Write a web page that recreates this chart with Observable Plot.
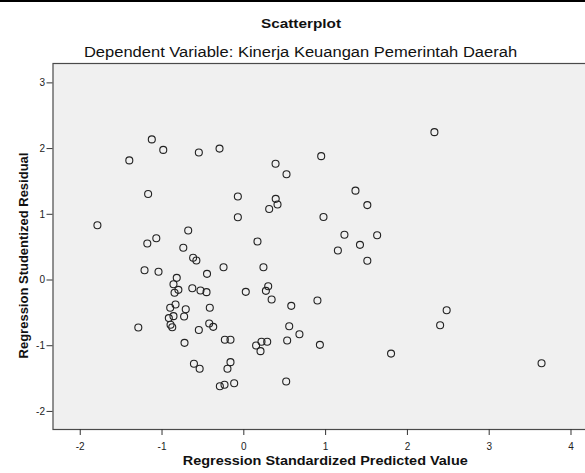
<!DOCTYPE html>
<html>
<head>
<meta charset="utf-8">
<script src="https://cdn.jsdelivr.net/npm/d3@7"></script>
<script src="https://cdn.jsdelivr.net/npm/@observablehq/plot@0.6"></script>
<style>
  html, body { margin: 0; padding: 0; background: #fff; }
  #wrap { width: 585px; height: 473px; position: relative; overflow: hidden; font-family: "Liberation Sans", Arial, sans-serif; }
  #head { position: relative; height: 56px; border-top: 2px solid #000; box-sizing: border-box; }
  #title { position: absolute; left: 0; width: 602px; top: 15px; line-height: 1; text-align: center; font-weight: bold; font-size: 13px; color: #111; transform: scaleX(1.18); transform-origin: 301px 0; white-space: nowrap; }
  #subtitle { position: absolute; left: 0; width: 601px; top: 42.8px; line-height: 1; text-align: center; font-size: 14px; color: #111; transform: scaleX(1.18); transform-origin: 300.5px 0; white-space: nowrap; }
  svg { display: block; overflow: hidden; }
</style>
</head>
<body>
<div id="wrap">
  <div id="head">
    <div id="title">Scatterplot</div>
    <div id="subtitle">Dependent Variable: Kinerja Keuangan Pemerintah Daerah</div>
  </div>
  <div id="chart"></div>
</div>
<script>
// Regression Standardized Predicted Value
const predicted = [
  -1.79, -1.125, -0.985, -1.40, -0.55, -0.297, -1.17, -0.073, -0.073, -0.68,
  -1.07, -1.18, -0.74, 0.388, 0.522, 0.946, 0.39, 0.412, 0.31, 1.365,
  1.51, 0.974, 0.167, 1.23, 1.63, 1.42, 1.15, 2.33, -0.62, -0.58,
  -1.214, -1.043, -0.248, -0.45, -0.82, -0.86, -0.80, -0.847, -0.63, -0.53,
  -0.456, -0.835, -0.90, -0.71, -0.416, -0.917, -0.86, -0.73, -0.896, -0.875,
  -1.29, -0.55, -0.423, -0.374, -0.725, -0.232, -0.163, -0.163, -0.2, -0.61,
  -0.54, -0.293, -0.236, -0.118, 1.51, 0.24, 0.024, 0.298, 0.27, 0.34,
  0.58, 0.90, 0.555, 0.68, 0.53, 0.93, 0.216, 0.286, 0.15, 0.204,
  0.518, 1.80, 2.48, 2.40, 3.64
];
// Regression Studentized Residual
const residual = [
  0.834, 2.14, 1.98, 1.82, 1.94, 2.00, 1.31, 1.27, 0.956, 0.753,
  0.636, 0.556, 0.49, 1.77, 1.61, 1.885, 1.235, 1.15, 1.08, 1.36,
  1.14, 0.96, 0.586, 0.688, 0.682, 0.535, 0.45, 2.25, 0.338, 0.297,
  0.149, 0.125, 0.195, 0.094, 0.033, -0.064, -0.15, -0.195, -0.125, -0.16,
  -0.185, -0.373, -0.423, -0.444, -0.423, -0.58, -0.55, -0.556, -0.68, -0.718,
  -0.723, -0.76, -0.662, -0.713, -0.956, -0.91, -0.91, -1.25, -1.35, -1.275,
  -1.35, -1.616, -1.595, -1.57, 0.292, 0.195, -0.18, -0.094, -0.165, -0.297,
  -0.393, -0.312, -0.703, -0.825, -0.92, -0.987, -0.94, -0.94, -0.997, -1.083,
  -1.545, -1.12, -0.46, -0.688, -1.266
];
const xTicks = [-2, -1, 0, 1, 2, 3, 4];
const yTicks = [-2, -1, 0, 1, 2, 3];
const xLabel = "Regression Standardized Predicted Value";
const yLabel = "Regression Studentized Residual";

const data = predicted.map((x, i) => ({x, y: residual[i]}));

const chart = Plot.plot({
  width: 585,
  height: 417,
  marginTop: 7,
  marginLeft: 52.5,
  marginRight: -3,
  marginBottom: 44,
  style: {background: "#fff", fontFamily: "'Liberation Sans', Arial, sans-serif", fontSize: "10px", color: "#222"},
  x: {domain: [-2.333, 4.214]},
  y: {domain: [-2.275, 3.295]},
  marks: [
    Plot.frame({fill: "#f0f0f0", stroke: "#4a4a4a", strokeWidth: 1.2}),
    Plot.dot(data, {x: "x", y: "y", r: 3.5, stroke: "#222", strokeWidth: 1.1, fill: "none"}),
    Plot.axisX({ticks: xTicks, tickSize: 6, tickPadding: 7, tickFormat: d => String(d), label: null, stroke: "#333"}),
    Plot.axisY({ticks: yTicks, tickSize: 6, tickPadding: 2, tickFormat: d => String(d), label: null, stroke: "#333"}),
    Plot.text([xLabel], {frameAnchor: "bottom", lineAnchor: "middle", textAnchor: "middle", dx: 4.5, dy: 31, fontWeight: "bold", fontSize: 13, fill: "#111"}),
    Plot.text([yLabel], {frameAnchor: "left", lineAnchor: "middle", textAnchor: "middle", rotate: -90, dx: -29, dy: 9, fontWeight: "bold", fontSize: 13, fill: "#111"})
  ]
});
document.getElementById("chart").appendChild(chart);
// stretch the x-axis title horizontally like the reference rendering
d3.select(chart).selectAll("text").filter(function() { return this.textContent === xLabel; })
  .attr("textLength", 285).attr("lengthAdjust", "spacingAndGlyphs");
</script>
</body>
</html>
